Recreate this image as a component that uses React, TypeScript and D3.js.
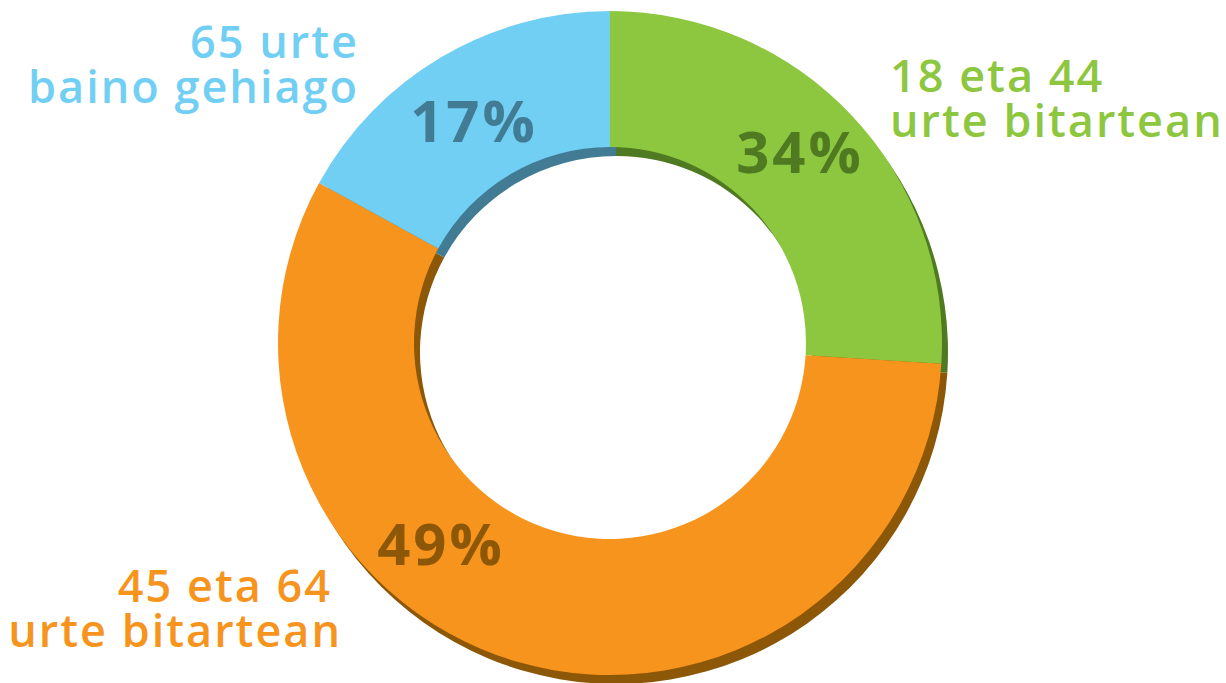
import React from "react";
import * as d3 from "d3";

const categories = ["18 eta 44 urte bitartean", "45 eta 64 urte bitartean", "65 urte baino gehiago"];
const sliceShares = [26, 57, 17];
const percentLabels = ["34%", "49%", "17%"];
const labelLines = [
  ["18 eta 44", "urte bitartean"],
  ["45 eta 64", "urte bitartean"],
  ["65 urte", "baino gehiago"],
];
const mainColors = ["#8dc63f", "#f7941d", "#72cff4"];
const shadeColors = ["#4f7a22", "#8c5706", "#417c94"];

const W = 1226;
const H = 683;
const cx = 610;
const cy = 343;
const rOuter = 332;
const rInner = 196;
const shadowDx = 6;
const shadowDy = 9;

const pctPos = [
  { x: 800, y: 173 },
  { x: 441, y: 565 },
  { x: 474, y: 142 },
];
const catPos = [
  { xs: [890, 890], y: 92, anchor: "start" },
  { xs: [332, 342], y: 602, anchor: "end" },
  { xs: [359, 359], y: 58, anchor: "end" },
];

export default function App() {
  const pie = d3.pie<number>().sort(null).startAngle(0).endAngle(2 * Math.PI);
  const arcs = pie(sliceShares);
  const arc = d3.arc<d3.PieArcDatum<number>>().innerRadius(rInner).outerRadius(rOuter);
  const font = "'Open Sans', 'Noto Sans', sans-serif";
  return (
    <svg width={W} height={H} style={{ position: "absolute", left: 0, top: 0 }}>
      <g transform={`translate(${cx + shadowDx},${cy + shadowDy})`}>
        {arcs.map((a, i) => (
          <path key={"s" + i} d={arc(a) || ""} fill={shadeColors[i]} />
        ))}
      </g>
      <g transform={`translate(${cx},${cy})`}>
        {arcs.map((a, i) => (
          <path key={"m" + i} d={arc(a) || ""} fill={mainColors[i]} />
        ))}
      </g>
      {percentLabels.map((t, i) => (
        <text
          key={"p" + i}
          x={pctPos[i].x}
          y={pctPos[i].y}
          textAnchor="middle"
          fontFamily={font}
          fontWeight={700}
          fontSize={58}
          letterSpacing={3}
          fill={shadeColors[i]}
        >
          {t}
        </text>
      ))}
      {labelLines.map((lines, i) =>
        lines.map((l, j) => (
          <text
            key={"c" + i + "-" + j}
            x={catPos[i].xs[j]}
            y={catPos[i].y + j * 45}
            textAnchor={catPos[i].anchor as any}
            fontFamily={font}
            fontWeight={600}
            fontSize={45}
            letterSpacing={2}
            fill={mainColors[i]}
          >
            {l}
          </text>
        ))
      )}
    </svg>
  );
}
